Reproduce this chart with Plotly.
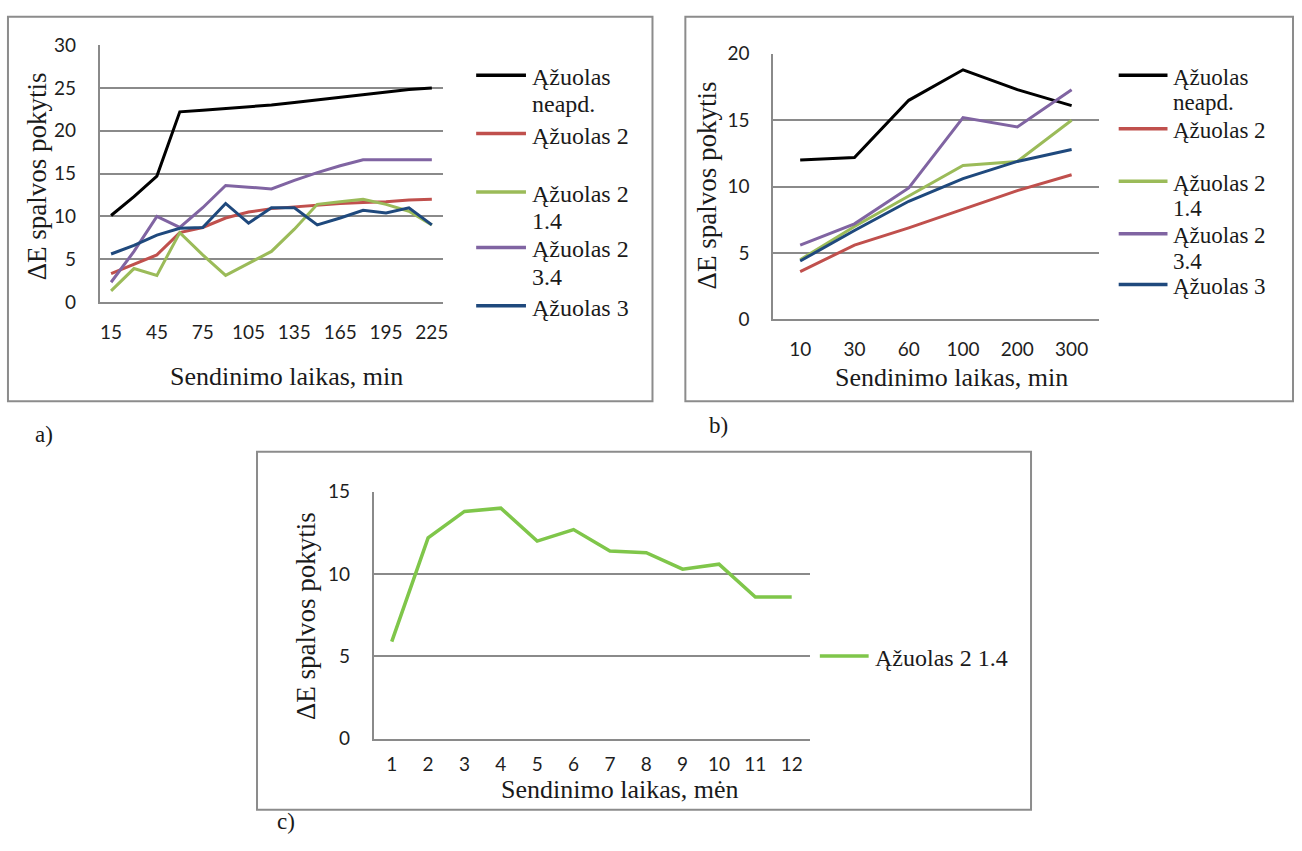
import plotly.graph_objects as go

# ---------------- data ----------------
series_names = ["Ąžuolas neapd.", "Ąžuolas 2", "Ąžuolas 2 1.4", "Ąžuolas 2 3.4", "Ąžuolas 3"]
legend_labels = ["Ąžuolas<br>neapd.", "Ąžuolas 2", "Ąžuolas 2<br>1.4", "Ąžuolas 2<br>3.4", "Ąžuolas 3"]
series_colors = ["#000000", "#C0504D", "#9BBB59", "#8064A2", "#1F497D"]

# panel a) ageing time, min
a_time = ["15", "30", "45", "60", "75", "90", "105", "120", "135", "150", "165", "180", "195", "210", "225"]
a_ticks = ["15", "45", "75", "105", "135", "165", "195", "225"]
a_neapd = [10.1, 12.3, 14.7, 22.2, 22.4, 22.6, 22.8, 23.0, 23.3, 23.6, 23.9, 24.2, 24.5, 24.8, 25.0]
a_az2 = [3.3, 4.4, 5.5, 8.1, 8.7, 9.8, 10.5, 10.9, 11.1, 11.3, 11.5, 11.6, 11.7, 11.9, 12.0]
a_az2_14 = [1.3, 3.9, 3.1, 8.1, 5.5, 3.1, 4.5, 5.9, 8.5, 11.4, 11.7, 12.0, 11.4, 10.6, 9.0]
a_az2_34 = [2.3, 5.9, 10.0, 8.7, 11.0, 13.6, 13.4, 13.2, 14.2, 15.1, 15.9, 16.6, 16.6, 16.6, 16.6]
a_az3 = [5.6, 6.6, 7.8, 8.6, 8.7, 11.5, 9.2, 11.0, 11.0, 9.0, 9.8, 10.7, 10.4, 11.0, 9.0]

# panel b) ageing time, min
b_time = ["10", "30", "60", "100", "200", "300"]
b_neapd = [12.0, 12.2, 16.5, 18.8, 17.3, 16.1]
b_az2 = [3.6, 5.6, 6.9, 8.3, 9.7, 10.9]
b_az2_14 = [4.5, 7.0, 9.3, 11.6, 11.9, 15.0]
b_az2_34 = [5.6, 7.2, 9.9, 15.2, 14.5, 17.3]
b_az3 = [4.4, 6.7, 8.9, 10.6, 11.9, 12.8]

# panel c) ageing time, months
c_time = ["1", "2", "3", "4", "5", "6", "7", "8", "9", "10", "11", "12"]
c_az2_14 = [5.9, 12.2, 13.8, 14.0, 12.0, 12.7, 11.4, 11.3, 10.3, 10.6, 8.6, 8.6]
c_name = "Ąžuolas 2 1.4"
c_color = "#7FC64A"

y_title = "ΔE spalvos pokytis"
x_title_min = "Sendinimo laikas, min"
x_title_men = "Sendinimo laikas, mėn"

# ---------------- layout helpers ----------------
W, H = 1302, 851
SERIF = "Liberation Serif, Times New Roman, DejaVu Serif, serif"
SANS = "Lato, Open Sans, sans-serif"
GRID = "#8a8a8a"
BORDER = "#8c8c8c"


def px(x):
    return x / W


def py(y):
    return 1 - y / H


fig = go.Figure()

a_series = [a_neapd, a_az2, a_az2_14, a_az2_34, a_az3]
b_series = [b_neapd, b_az2, b_az2_14, b_az2_34, b_az3]

for name, col, vals in zip(series_names, series_colors, a_series):
    fig.add_trace(go.Scatter(x=a_time, y=vals, name=name, mode="lines",
                             line=dict(color=col, width=3), xaxis="x", yaxis="y",
                             showlegend=False))
for name, col, vals in zip(series_names, series_colors, b_series):
    fig.add_trace(go.Scatter(x=b_time, y=vals, name=name, mode="lines",
                             line=dict(color=col, width=3), xaxis="x2", yaxis="y2",
                             showlegend=False))
fig.add_trace(go.Scatter(x=c_time, y=c_az2_14, name=c_name, mode="lines",
                         line=dict(color=c_color, width=3.5), xaxis="x3", yaxis="y3",
                         showlegend=False))

tickfont = dict(family=SANS, size=19, color="#1e1e1e")


def xax(domain, anchor, cats, tickvals, ticklen):
    return dict(domain=domain, anchor=anchor, type="category", categoryorder="array",
                categoryarray=cats, range=[-0.5, len(cats) - 0.5], tickmode="array",
                tickvals=tickvals, ticktext=tickvals, showgrid=False, zeroline=False,
                showline=True, linecolor=GRID, linewidth=1.5, ticks="outside",
                ticklen=ticklen, tickcolor="rgba(0,0,0,0)", tickfont=tickfont)


def yax(domain, anchor, rng, ticklen):
    return dict(domain=domain, anchor=anchor, range=rng, dtick=5, tick0=0,
                showgrid=True, gridcolor=GRID, gridwidth=1.5, zeroline=False,
                showline=True, linecolor=GRID, linewidth=1.5, ticks="outside",
                ticklen=ticklen, tickcolor="rgba(0,0,0,0)", tickfont=tickfont)


fig.update_layout(
    width=W, height=H, margin=dict(l=0, r=0, t=0, b=0),
    paper_bgcolor="white", plot_bgcolor="white",
    xaxis=xax([px(100), px(445)], "y", a_time, a_ticks, 13),
    yaxis=yax([py(298), py(34)], "x", [0, 30], 18),
    xaxis2=xax([px(776), px(1103)], "y2", b_time, b_time, 12),
    yaxis2=yax([py(316), py(43)], "x2", [0, 20], 18),
    xaxis3=xax([px(375), px(813)], "y3", c_time, c_time, 8),
    yaxis3=yax([py(747), py(493)], "x3", [0, 15], 18),
)

shapes = []
annotations = []

# panel borders
for (x0, y0, x1, y1) in [(8, 5, 655, 400), (688, 5, 1298, 400), (258, 452, 1035, 820)]:
    shapes.append(dict(type="rect", xref="paper", yref="paper", x0=px(x0), x1=px(x1),
                       y0=py(y1), y1=py(y0), line=dict(color=BORDER, width=2)))


def text(x, y, s, size, xanchor="center", yanchor="middle", angle=0, family=SERIF):
    annotations.append(dict(xref="paper", yref="paper", x=px(x), y=py(y), text=s,
                            showarrow=False, xanchor=xanchor, yanchor=yanchor,
                            textangle=angle, align="left",
                            font=dict(family=family, size=size, color="#1a1a1a")))


# axis titles
text(38, 169, y_title, 27, angle=-90)
text(288, 375, x_title_min, 26)
text(710, 178, y_title, 27, angle=-90)
text(955, 376, x_title_min, 26)
text(307, 621, y_title, 27, angle=-90)
text(622, 799, x_title_men, 26)

# panel labels
text(44, 434, "a)", 23)
text(721, 425, "b)", 23)
text(287, 832, "c)", 23)


# legends (drawn manually, Excel-like)
def legend(x0, x1, ys, labels, colors, size, dy):
    for yy, lab, col in zip(ys, labels, colors):
        shapes.append(dict(type="line", xref="paper", yref="paper", x0=px(x0), x1=px(x1),
                           y0=py(yy), y1=py(yy), line=dict(color=col, width=3.5)))
        for k, part in enumerate(lab.split("<br>")):
            text(x1 + 4, yy + 2 + k * dy, part, size, xanchor="left")


legend(478, 528, [65, 125, 185, 242, 302], legend_labels, series_colors, 24, 28)
legend(1123, 1172, [65, 120, 174, 228, 280], legend_labels, series_colors, 23, 26)
legend(823, 872, [662], [c_name], [c_color], 24, 0)

fig.update_layout(shapes=shapes, annotations=annotations)
fig.write_html("out.html", config={"displayModeBar": False},
               post_script="document.body.style.margin='0';document.body.style.overflow='hidden';")
